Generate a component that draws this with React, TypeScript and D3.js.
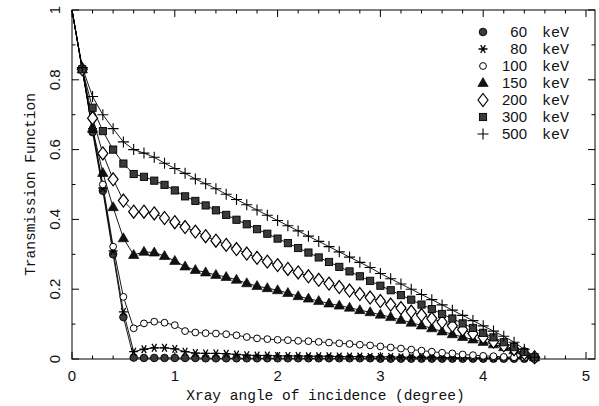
import React from "react";
import * as d3 from "d3";

const angles = [0, 0.1, 0.2, 0.3, 0.4, 0.5, 0.6,
  0.7, 0.8, 0.9, 1.0, 1.1, 1.2, 1.3, 1.4, 1.5, 1.6,
  1.7, 1.8, 1.9, 2.0, 2.1, 2.2, 2.3, 2.4, 2.5, 2.6,
  2.7, 2.8, 2.9, 3.0, 3.1, 3.2, 3.3, 3.4, 3.5, 3.6,
  3.7, 3.8, 3.9, 4.0, 4.1, 4.2, 4.3, 4.4, 4.5];

const t60 = [1, 0.83, 0.65, 0.482, 0.30, 0.12, 0.004,
  0.003, 0.003, 0.003, 0.003, 0.003, 0.003, 0.002, 0.002, 0.002, 0.002,
  0.002, 0.002, 0.002, 0.002, 0.002, 0.002, 0.002, 0.002, 0.002, 0.002,
  0.002, 0.002, 0.002, 0.001, 0.001, 0.001, 0.001, 0.001, 0.001, 0.001,
  0.001, 0.001, 0.001, 0.001, 0.001, 0.001, 0.001, 0.001, 0.001];
const t80 = [1, 0.83, 0.66, 0.49, 0.31, 0.135, 0.021,
  0.028, 0.032, 0.032, 0.029, 0.021, 0.017, 0.016, 0.016, 0.015, 0.013,
  0.011, 0.010, 0.010, 0.009, 0.009, 0.009, 0.008, 0.008, 0.008, 0.007,
  0.007, 0.007, 0.006, 0.006, 0.006, 0.005, 0.005, 0.005, 0.005, 0.004,
  0.004, 0.004, 0.004, 0.003, 0.003, 0.003, 0.003, 0.002, 0.002];
const t100 = [1, 0.83, 0.66, 0.50, 0.322, 0.178, 0.088,
  0.102, 0.107, 0.104, 0.097, 0.080, 0.076, 0.074, 0.073, 0.071, 0.068,
  0.063, 0.059, 0.057, 0.055, 0.054, 0.052, 0.051, 0.049, 0.047, 0.045,
  0.043, 0.041, 0.039, 0.036, 0.033, 0.030, 0.027, 0.024, 0.021, 0.018,
  0.016, 0.013, 0.011, 0.009, 0.008, 0.006, 0.005, 0.004, 0.003];
const t150 = [1, 0.83, 0.66, 0.533, 0.435, 0.346, 0.298,
  0.307, 0.305, 0.295, 0.281, 0.265, 0.255, 0.248, 0.241, 0.235, 0.227,
  0.217, 0.209, 0.203, 0.197, 0.189, 0.180, 0.173, 0.166, 0.159, 0.153,
  0.147, 0.140, 0.134, 0.127, 0.120, 0.112, 0.104, 0.096, 0.088, 0.079,
  0.071, 0.063, 0.056, 0.049, 0.042, 0.034, 0.025, 0.015, 0.005];
const t200 = [1, 0.83, 0.69, 0.589, 0.515, 0.454, 0.422,
  0.422, 0.417, 0.404, 0.392, 0.378, 0.365, 0.352, 0.339, 0.327, 0.315,
  0.302, 0.290, 0.279, 0.269, 0.258, 0.248, 0.237, 0.227, 0.216, 0.206,
  0.196, 0.186, 0.176, 0.166, 0.156, 0.146, 0.136, 0.126, 0.116, 0.106,
  0.095, 0.084, 0.073, 0.062, 0.050, 0.039, 0.028, 0.016, 0.005];
const t300 = [1, 0.83, 0.72, 0.653, 0.600, 0.560, 0.530,
  0.522, 0.511, 0.499, 0.483, 0.466, 0.453, 0.440, 0.426, 0.413, 0.399,
  0.386, 0.372, 0.359, 0.345, 0.332, 0.318, 0.305, 0.291, 0.278, 0.264,
  0.251, 0.237, 0.224, 0.210, 0.197, 0.183, 0.170, 0.156, 0.143, 0.129,
  0.116, 0.102, 0.089, 0.075, 0.062, 0.048, 0.034, 0.020, 0.005];
const t500 = [1, 0.835, 0.752, 0.700, 0.660, 0.622, 0.600,
  0.590, 0.578, 0.561, 0.546, 0.532, 0.516, 0.502, 0.488, 0.472, 0.457,
  0.442, 0.427, 0.412, 0.397, 0.382, 0.367, 0.352, 0.337, 0.322, 0.307,
  0.292, 0.277, 0.262, 0.245, 0.230, 0.215, 0.200, 0.185, 0.170, 0.155,
  0.140, 0.125, 0.110, 0.095, 0.080, 0.065, 0.048, 0.028, 0.005];

const energies = ["60", "80", "100", "150", "200", "300", "500"];
const seriesValues = [t60, t80, t100, t150, t200, t300, t500];
const markerKinds = ["dot", "star", "ring", "tri", "diamond", "square", "plus"];

const xTicks = [0, 1, 2, 3, 4, 5];
const yTicks = [0, 0.2, 0.4, 0.6, 0.8, 1];
const yTickLabels = ["0", "0.2", "0.4", "0.6", "0.8", "1"];

const W = 599, H = 406;
const L = 72, R = 595, T = 10, B = 359;

function Marker({ kind, x, y }: { kind: string; x: number; y: number }) {
  const sw = 0.9;
  switch (kind) {
    case "dot":
      return <circle cx={x} cy={y} r={3.8} fill="#3a3a3a" stroke="#000" strokeWidth={sw} />;
    case "star": {
      const r = 4.5;
      const d = [0, 60, 120].map((a) => {
        const rad = (a * Math.PI) / 180;
        const dx = r * Math.cos(rad), dy = r * Math.sin(rad);
        return `M${x - dx},${y - dy}L${x + dx},${y + dy}`;
      }).join("");
      return <path d={d} stroke="#000" strokeWidth={1.3} fill="none" />;
    }
    case "ring":
      return <circle cx={x} cy={y} r={3.4} fill="#fff" stroke="#000" strokeWidth={1} />;
    case "tri":
      return <path d={`M${x},${y - 5.5}L${x + 5.2},${y + 3.5}L${x - 5.2},${y + 3.5}Z`} fill="#111" stroke="#000" strokeWidth={0.6} />;
    case "diamond":
      return <path d={`M${x},${y - 6.5}L${x + 5},${y}L${x},${y + 6.5}L${x - 5},${y}Z`} fill="#fff" stroke="#000" strokeWidth={1.2} />;
    case "square":
      return <rect x={x - 3.6} y={y - 3.6} width={7.2} height={7.2} fill="#3a3a3a" stroke="#000" strokeWidth={sw} />;
    case "plus":
      return <path d={`M${x - 5.5},${y}L${x + 5.5},${y}M${x},${y - 5.5}L${x},${y + 5.5}`} stroke="#000" strokeWidth={1.1} fill="none" />;
  }
  return null;
}

export default function App() {
  const x = d3.scaleLinear().domain([0, 5]).range([L, 586]);
  const y = d3.scaleLinear().domain([0, 1]).range([B, T]);
  const line = d3.line<number>().x((_, i) => x(angles[i])).y((v) => y(v));

  const xMinor = d3.range(0, 5.11, 0.2).filter((v) => x(v) <= R);
  const yMinor = d3.range(0, 1.01, 0.1);

  return (
    <svg width={W} height={H} style={{ position: "absolute", left: 0, top: 0, background: "#fff" }}>
      <rect x={0} y={0} width={W} height={H} fill="#fff" />
      {/* frame */}
      <rect x={L} y={T} width={R - L} height={B - T} fill="none" stroke="#000" strokeWidth={1} />
      {/* x ticks */}
      {xMinor.map((v, i) => {
        const major = Math.abs(v - Math.round(v)) < 1e-6;
        const len = major ? 7 : 3.5;
        return (
          <g key={"xt" + i}>
            <line x1={x(v)} x2={x(v)} y1={B} y2={B - len} stroke="#000" strokeWidth={1} />
            <line x1={x(v)} x2={x(v)} y1={T} y2={T + len} stroke="#000" strokeWidth={1} />
          </g>
        );
      })}
      {yMinor.map((v, i) => {
        const major = i % 2 === 0;
        const len = major ? 7 : 3.5;
        return (
          <g key={"yt" + i}>
            <line x1={L} x2={L + len} y1={y(v)} y2={y(v)} stroke="#000" strokeWidth={1} />
            <line x1={R} x2={R - len} y1={y(v)} y2={y(v)} stroke="#000" strokeWidth={1} />
          </g>
        );
      })}
      {xTicks.map((v) => (
        <text key={"xl" + v} x={x(v)} y={381} textAnchor="middle" fontFamily="Liberation Sans, Arial, sans-serif" fontSize={15} fill="#111">{v}</text>
      ))}
      {yTicks.map((v, i) => (
        <text key={"yl" + v} transform={`translate(60,${y(v)}) rotate(-90)`} textAnchor="middle" fontFamily="Liberation Sans, Arial, sans-serif" fontSize={15} fill="#111">{yTickLabels[i]}</text>
      ))}
      <text x={(L + R) / 2 - 8} y={400} textAnchor="middle" fontFamily="Liberation Mono, Courier New, monospace" fontSize={14.5} fill="#111">Xray angle of incidence (degree)</text>
      <text transform={`translate(35,${(T + B) / 2}) rotate(-90)`} textAnchor="middle" fontFamily="Liberation Mono, Courier New, monospace" fontSize={14.5} fill="#111">Transmission Function</text>
      {/* lines */}
      {seriesValues.map((vals, s) => (
        <path key={"l" + s} d={line(vals) || ""} fill="none" stroke="#000" strokeWidth={0.9} />
      ))}
      {/* markers */}
      {seriesValues.map((vals, s) => (
        <g key={"m" + s}>
          {vals.map((v, i) => (i === 0 ? null : <Marker key={i} kind={markerKinds[s]} x={x(angles[i])} y={y(v)} />))}
        </g>
      ))}
      {/* legend */}
      {energies.map((e, i) => (
        <g key={"lg" + e}>
          <Marker kind={markerKinds[i]} x={483} y={32 + 17 * i} />
          <text x={527} y={37 + 17 * i} textAnchor="end" fontFamily="Liberation Sans, Arial, sans-serif" fontSize={15} fill="#111">{e}</text>
          <text x={542} y={37 + 17 * i} fontFamily="Liberation Mono, Courier New, monospace" fontSize={15} fill="#111">keV</text>
        </g>
      ))}
    </svg>
  );
}
